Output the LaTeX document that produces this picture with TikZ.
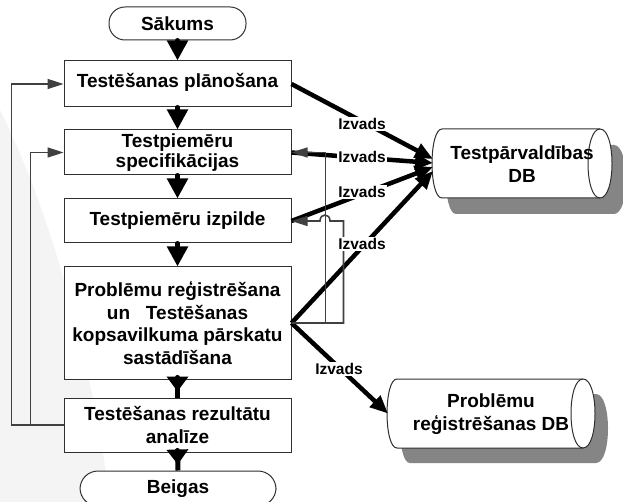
\documentclass[tikz,border=0pt]{standalone}
\usepackage{fontspec}
\setmainfont{Liberation Sans}
\usetikzlibrary{arrows.meta}
\definecolor{boxc}{HTML}{303030}
\definecolor{lgray}{HTML}{404040}
\definecolor{shadowgray}{HTML}{858585}
\definecolor{swoosh}{HTML}{F4F4F4}
\begin{document}
\begin{tikzpicture}[x=1pt,y=-1pt,
  box/.style={draw=boxc, line width=1pt, fill=white, minimum width=227pt, inner sep=0pt, align=center, font=\bfseries\fontsize{19}{22.5}\selectfont},
  term/.style={box, rounded corners=16pt},
  flow/.style={line width=5pt, line cap=round, -{Triangle[width=20pt,length=20pt]}},
  funnel/.style={line width=5pt, line cap=round, shorten >=6pt, -{Triangle[width=21pt,length=15pt]}},
  stem/.style={line width=5pt},
  outl/.style={line width=4.5pt, -{Triangle[width=15pt,length=18pt]}},
  back/.style={draw=lgray, line width=1.6pt, -{Triangle[width=10pt,length=16pt]}},
  lab/.style={fill=white, inner sep=1pt, font=\bfseries\fontsize{15.5}{18}\selectfont},
  dbtext/.style={align=center, inner sep=0pt, font=\bfseries\fontsize{19}{22.5}\selectfont},
  dbbody/.style={fill=white, draw=boxc, line width=1pt},
]
\useasboundingbox (0,0) rectangle (623,502);
\fill[white] (0,0) rectangle (623,502);
\fill[swoosh] (0,110) .. controls (55,220) and (95,380) .. (110,502) -- (0,502) -- cycle;

% nodes of the flow
\node[term, minimum width=137pt, minimum height=33pt] (start) at (177.5,23.5) {Sākums};
\node[box, minimum height=46pt] (b1) at (177.5,84) {\raisebox{7pt}{Testēšanas plānošana}};
\node[box, minimum height=45pt] (b2) at (177.5,152.5) {Testpiemēru\\[-2pt]specifikācijas};
\node[box, minimum height=44pt] (b3) at (177.5,221) {Testpiemēru izpilde};
\node[box, minimum height=112pt] (b4) at (177.5,323) {Problēmu reģistrēšana\\un\ \ \ Testēšanas\\kopsavilkuma pārskatu\\sastādīšana};
\node[box, minimum height=54pt] (b5) at (177.5,425) {Testēšanas rezultātu\\analīze};
\node[term, minimum width=196pt, minimum height=35pt, rounded corners=18pt] (end) at (178,488.5) {Beigas};

% databases
\begin{scope}[shift={(14,16)}]
  \fill[shadowgray] (442,129) -- (600,129) .. controls (616,129) and (616,198) .. (600,198) -- (442,198) .. controls (428.7,198) and (428.7,129) .. (442,129) -- cycle;
\end{scope}
\filldraw[dbbody] (442,129) -- (600,129) .. controls (616,129) and (616,198) .. (600,198) -- (442,198) .. controls (428.7,198) and (428.7,129) .. (442,129) -- cycle;
\draw[draw=boxc, line width=1pt] (600,129) .. controls (584,129) and (584,198) .. (600,198);
\node[dbtext] (db1) at (522,164) {Testpārvaldības\\DB};

\begin{scope}[shift={(13,15)}]
  \fill[shadowgray] (397,379) -- (583,379) .. controls (599,379) and (599,448) .. (583,448) -- (397,448) .. controls (383.7,448) and (383.7,379) .. (397,379) -- cycle;
\end{scope}
\filldraw[dbbody] (397,379) -- (583,379) .. controls (599,379) and (599,448) .. (583,448) -- (397,448) .. controls (383.7,448) and (383.7,379) .. (397,379) -- cycle;
\draw[draw=boxc, line width=1pt] (583,379) .. controls (567,379) and (567,448) .. (583,448);
\node[dbtext] (db2) at (491,414) {Problēmu\\reģistrēšanas DB};

\coordinate (t1) at (433,159);
\coordinate (t2) at (433,163);
\coordinate (t3) at (433,167);
\coordinate (t4) at (433,171);
\coordinate (t5) at (388,413.5);

% main flow arrows
\draw[flow] (start.south) -- (b1.north);
\draw[flow] (b1.south) -- (b2.north);
\draw[flow] (b2.south) -- (b3.north);
\draw[flow] (b3.south) -- (b4.north);
\draw[stem] (b4.south) -- (b5.north);
\draw[funnel] (b4.south) -- (b5.north);
\draw[stem] (b5.south) -- (end.north);
\draw[funnel] (b5.south) -- (end.north);

% outputs to databases
\draw[outl] (b1.east) -- (t1);
\draw[outl] (b2.east) -- (t2);
\draw[outl] (b3.east) -- (t3);
\draw[outl] (b4.east) -- (t4);
\draw[outl] (b4.east) -- (t5);

% feedback loops
\draw[back] (b5.west) -- ++(-52,0) |- (b1.west);
\draw[back] ([xshift=-33pt]b5.west) |- (b2.west);
\draw[back] (b4.east) -- ++(52,0) -- ++(0,-102) -- (330,221) .. controls (330,213) and (320,213) .. (320,221) -- (b3.east);
\draw[back] ([xshift=34pt]b4.east) |- (b2.east);

% labels
\node[lab] (l1) at (362,124) {Izvads};
\node[lab] (l2) at (362,157) {Izvads};
\node[lab] (l3) at (362,192) {Izvads};
\node[lab] (l4) at (362,244) {Izvads};
\node[lab] (l5) at (339,369) {Izvads};
\end{tikzpicture}
\end{document}
